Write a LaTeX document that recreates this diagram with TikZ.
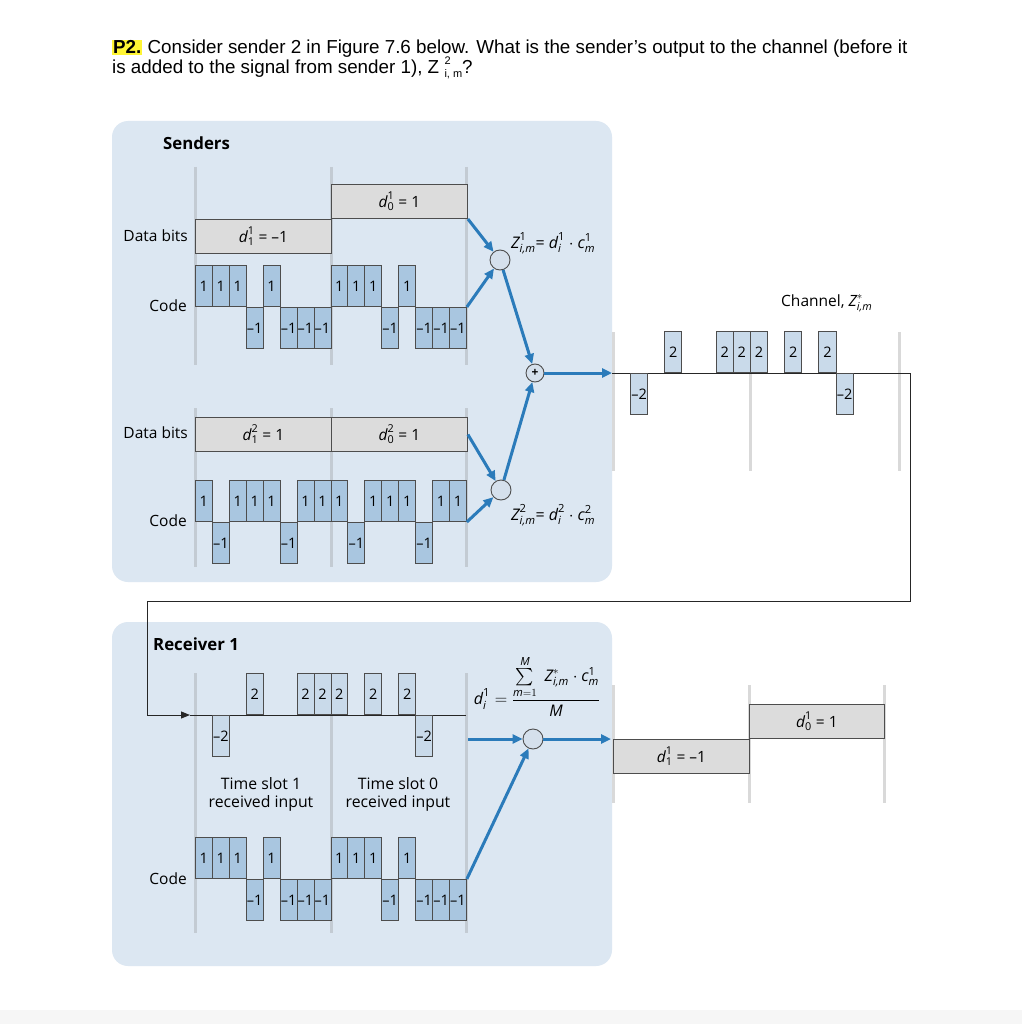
\documentclass[tikz,border=0pt]{standalone}
\usepackage{fontspec}
\setmainfont{Liberation Sans}
\newfontfamily\figfont{Open Sans}
\usepackage{amsmath}
\usepackage{xcolor}
\usetikzlibrary{arrows.meta,positioning,calc}

\definecolor{panelblue}{HTML}{DCE7F2}
\definecolor{chipblue}{HTML}{A9C6E0}
\definecolor{chanblue}{HTML}{C9DAEA}
\definecolor{bitgrey}{HTML}{DCDCDC}
\definecolor{slotgrey}{HTML}{C3CBD3}
\definecolor{flowblue}{HTML}{2B7BBA}
\definecolor{edgegrey}{HTML}{4D4D4D}
\definecolor{circfill}{HTML}{D5E0EC}
\definecolor{hilite}{HTML}{FFF534}

% sans italic symbol with upper and lower index
\newcommand{\sym}[3]{\textit{#1}^{#2}_{#3}}

\tikzset{
  panel/.style={fill=panelblue, rounded corners=16pt},
  slot/.style={draw=slotgrey, line width=3pt},
  bit/.style={draw=edgegrey, fill=bitgrey, line width=0.9pt, minimum width=136pt,
    minimum height=34pt, inner sep=0pt, font=\figfont\fontsize{15.5}{17}\selectfont},
  chip/.style={draw=edgegrey, fill=chipblue, line width=0.8pt, minimum width=16.94pt,
    minimum height=41pt, inner sep=0pt, font=\figfont\fontsize{14.5}{16}\selectfont},
  chanchip/.style={chip, fill=chanblue},
  mulnode/.style={circle, draw=edgegrey, fill=circfill, line width=0.9pt,
    minimum size=20pt, inner sep=0pt},
  flow/.style={draw=flowblue, line width=3pt, -{Triangle[length=10pt,width=9pt]}},
  wire/.style={draw=black!85, line width=1pt},
  lbl/.style={font=\figfont\fontsize{15.5}{18}\selectfont, inner sep=0pt},
  mlbl/.style={font=\figfont\fontsize{16}{18}\selectfont, inner sep=0pt},
  head/.style={font=\figfont\bfseries\fontsize{16.8}{19}\selectfont, inner sep=0pt}
}

\begin{document}
\begin{tikzpicture}[x=1pt,y=-1pt]
\useasboundingbox (0,0) rectangle (1022,1024);
\fill[white] (0,0) rectangle (1022,1024);
\fill[gray!7] (0,1010) rectangle (1022,1024);

% question text
\node[anchor=base west, inner sep=0pt, font=\fontsize{18.8}{22}\selectfont] (q1) at (112,54)
  {{\setlength{\fboxsep}{1pt}\colorbox{hilite}{\textbf{P2.}}} Consider sender 2 in Figure 7.6 below. What is the sender's output to the channel (before it};
\node[anchor=base west, inner sep=0pt, font=\fontsize{18.8}{22}\selectfont] (q2) at (112,74)
  {is added to the signal from sender 1), Z \rlap{\raisebox{0.5em}{\fontsize{11}{11}\selectfont 2}}\raisebox{-0.2em}{\fontsize{11}{11}\selectfont i, m}?};

% panels
\fill[panel] (112,121) rectangle (612,582);
\fill[panel] (112,622) rectangle (612,966);

% time slot lines
\foreach \x in {195,331,466} {
  \draw[slot] (\x,167) -- (\x,365);
  \draw[slot] (\x,408) -- (\x,567);
  \draw[slot] (\x,673) -- (\x,933);
}
\foreach \x in {613,750,899} \draw[slot, draw=gray!30] (\x,332) -- (\x,471);
\foreach \x in {613,749,884} \draw[slot, draw=gray!30] (\x,685) -- (\x,803);

\node[head, anchor=west] (sendtitle) at (163,143) {Senders};
\node[head, anchor=west] (recvtitle) at (153,644) {Receiver 1};

% sender 1
\node[lbl, anchor=east] (bits1) at (188,236) {Data bits};
\node[lbl, anchor=east] (code1) at (187,306) {Code};
\node[bit, anchor=north west] (d11) at (195,219) {$\sym{d}{\textup{1}}{\textup{1}}$ = –1};
\node[bit, anchor=south west] (d10) at (331,219) {$\sym{d}{\textup{1}}{\textup{0}}$ = 1};
\foreach \v [count=\k from 0] in {1,1,1,-1,1,-1,-1,-1,1,1,1,-1,1,-1,-1,-1} {
  \ifnum\v>0
    \node[chip, anchor=south west] (sa\k) at ({195+16.94*\k},307) {\v};
  \else
    \node[chip, anchor=north west] (sa\k) at ({195+16.94*\k},307) {–\the\numexpr-\v\relax};
  \fi
}

% sender 2
\node[lbl, anchor=east] (bits2) at (188,433) {Data bits};
\node[lbl, anchor=east] (code2) at (187,521) {Code};
\node[bit, anchor=west] (d21) at (195,434.5) {$\sym{d}{\textup{2}}{\textup{1}}$ = 1};
\node[bit, anchor=west] (d20) at (331,434.5) {$\sym{d}{\textup{2}}{\textup{0}}$ = 1};
\foreach \v [count=\k from 0] in {1,-1,1,1,1,-1,1,1,1,-1,1,1,1,-1,1,1} {
  \ifnum\v>0
    \node[chip, anchor=south west] (sb\k) at ({195+16.94*\k},522) {\v};
  \else
    \node[chip, anchor=north west] (sb\k) at ({195+16.94*\k},522) {–\the\numexpr-\v\relax};
  \fi
}

% combining
\node[mulnode] (mul1) at (500,260) {};
\node[mulnode] (mul2) at (501,490) {};
\node[mulnode, minimum size=18pt, font=\figfont\bfseries\fontsize{12}{12}\selectfont] (plus) at (535,373) {+};
\node[mlbl, anchor=west] (z1) at (511,243)
  {$\sym{Z}{\textup{1}}{\textit{i,m}}$= $\sym{d}{\textup{1}}{\textit{i}}\cdot\sym{c}{\textup{1}}{\textit{m}}$};
\node[mlbl, anchor=west] (z2) at (511,515)
  {$\sym{Z}{\textup{2}}{\textit{i,m}}$= $\sym{d}{\textup{2}}{\textit{i}}\cdot\sym{c}{\textup{2}}{\textit{m}}$};
\coordinate (chin) at (612,373);

\draw[flow] (d10.south east) -- (mul1);
\draw[flow] (sa15.north east) -- (mul1);
\draw[flow] (d20.east) -- (mul2);
\draw[flow] (sb15.south east) -- (mul2);
\draw[flow] (mul1) -- (plus);
\draw[flow] (mul2) -- (plus);
\draw[flow] (plus) -- (chin);

% channel
\node[lbl, anchor=west] (chlabel) at (781,303) {Channel, $\sym{Z}{*}{\textit{i,m}}$};
\coordinate (turn1) at (910,373);
\coordinate (turn2) at (910,601);
\coordinate (turn3) at (147,601);
\coordinate (rxin) at (190,715);
\coordinate (rxstop) at (466,715);
\draw[wire, -{Triangle[length=9pt,width=7pt]}] (chin) -- (turn1) -- (turn2) -- (turn3) |- (rxin);
\draw[wire] (rxin) -- (rxstop);
\foreach \v [count=\k from 0] in {0,-2,0,2,0,0,2,2,2,0,2,0,2,-2,0,0} {
  \ifnum\v>0 \node[chanchip, minimum width=17.12pt, anchor=south west] (ch\k) at ({613+17.12*\k},373) {\v}; \fi
  \ifnum\v<0 \node[chanchip, minimum width=17.12pt, anchor=north west] (ch\k) at ({613+17.12*\k},373) {–\the\numexpr-\v\relax}; \fi
  \ifnum\v>0 \node[chanchip, anchor=south west] (rx\k) at ({195+16.94*\k},715) {\v}; \fi
  \ifnum\v<0 \node[chanchip, anchor=north west] (rx\k) at ({195+16.94*\k},715) {–\the\numexpr-\v\relax}; \fi
}

% receiver
\node[lbl, align=center, font=\figfont\fontsize{15.8}{18}\selectfont] (slot1) at (261,794) {Time slot 1\\received input};
\node[lbl, align=center, font=\figfont\fontsize{15.8}{18}\selectfont] (slot0) at (398,794) {Time slot 0\\received input};
\node[lbl, anchor=east] (code3) at (187,879) {Code};
\foreach \v [count=\k from 0] in {1,1,1,-1,1,-1,-1,-1,1,1,1,-1,1,-1,-1,-1} {
  \ifnum\v>0
    \node[chip, anchor=south west] (rc\k) at ({195+16.94*\k},879) {\v};
  \else
    \node[chip, anchor=north west] (rc\k) at ({195+16.94*\k},879) {–\the\numexpr-\v\relax};
  \fi
}
\node[mulnode] (rmul) at (533,739) {};
\node[mlbl] (dform) at (537,686)
  {$\sym{d}{\textup{1}}{\textit{i}} = \dfrac{\sum\limits_{\textit{m}=1}^{\textit{M}}\; \sym{Z}{*}{\textit{i,m}}\cdot\sym{c}{\textup{1}}{\textit{m}}}{\textit{M}}$};
\coordinate (rxtap) at (468,739);
\coordinate (dout) at (611,739);
\draw[flow] (rxtap) -- (rmul);
\draw[flow] (rc15.north east) -- (rmul);
\draw[flow] (rmul) -- (dout);

% decoded bits
\node[bit, anchor=north west] (o11) at (613,739) {$\sym{d}{\textup{1}}{\textup{1}}$ = –1};
\node[bit, anchor=south west, minimum width=135pt] (o10) at (749,739) {$\sym{d}{\textup{1}}{\textup{0}}$ = 1};
\end{tikzpicture}
\end{document}
